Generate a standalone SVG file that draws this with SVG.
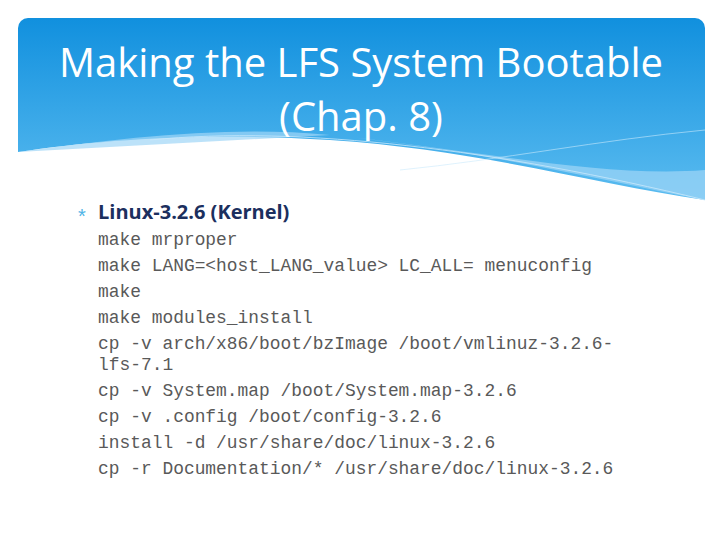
<svg xmlns="http://www.w3.org/2000/svg" width="720" height="540" viewBox="0 0 720 540">
<defs>
<linearGradient id="hg" x1="0" y1="0" x2="0" y2="1">
<stop offset="0" stop-color="#1190de"/>
<stop offset="1" stop-color="#5bbcf0"/>
</linearGradient>
<clipPath id="hc"><rect x="18" y="18" width="687" height="200" rx="10"/></clipPath>
<style>
.t{font-family:"Open Sans","Liberation Sans",sans-serif;font-size:40px;fill:#fff;text-anchor:middle}
.c{font-family:"Liberation Mono",monospace;font-size:17.9px;fill:#595959}
</style>
</defs>
<rect width="720" height="540" fill="#fff"/>
<g clip-path="url(#hc)">
<path d="M18 18H705V200C600 185 480 150 330 140C200 132 100 140 18 152Z" fill="url(#hg)"/>
<path d="M18 152C120 138 230 125 330 135C480 150 600 180 705 200V170C600 178 480 150 330 135Z" fill="#9fd6f7" opacity="0.7"/>
<path d="M150 140C300 125 500 150 705 200" fill="none" stroke="#c9e9fb" stroke-width="1" opacity="0.8"/>
<path d="M400 170C500 160 600 140 705 130" fill="none" stroke="#c9e9fb" stroke-width="1" opacity="0.6"/>
</g>
<text class="t" x="361" y="77">Making the LFS System Bootable</text>
<text class="t" x="361" y="131">(Chap. 8)</text>
<text x="78" y="223" font-family="Liberation Sans,sans-serif" font-size="20" fill="#4fb4e6">*</text>
<text x="98" y="219" font-family="Open Sans,Liberation Sans,sans-serif" font-size="20" font-weight="bold" fill="#1c2f5e">Linux-3.2.6 (Kernel)</text>
<g class="c">
<text class="c" x="98" y="245">make mrproper</text>
<text class="c" x="98" y="271">make LANG=&lt;host_LANG_value&gt; LC_ALL= menuconfig</text>
<text class="c" x="98" y="297">make</text>
<text class="c" x="98" y="323">make modules_install</text>
<text class="c" x="98" y="349">cp -v arch/x86/boot/bzImage /boot/vmlinuz-3.2.6-</text>
<text class="c" x="98" y="370">lfs-7.1</text>
<text class="c" x="98" y="396">cp -v System.map /boot/System.map-3.2.6</text>
<text class="c" x="98" y="422">cp -v .config /boot/config-3.2.6</text>
<text class="c" x="98" y="448">install -d /usr/share/doc/linux-3.2.6</text>
<text class="c" x="98" y="474">cp -r Documentation/* /usr/share/doc/linux-3.2.6</text>
</g>
</svg>
